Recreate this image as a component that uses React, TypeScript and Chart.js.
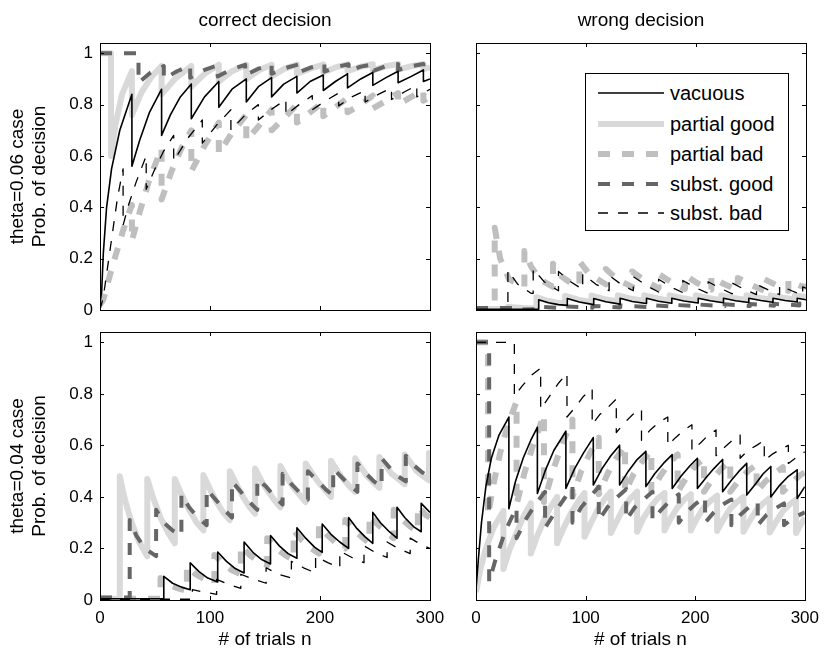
import React, { useEffect, useRef } from "react";
import { Chart, registerables } from "chart.js";

Chart.register(...registerables);

type Pt = [number, number];

// ---------- text / ticks ----------
const xTicks = [0, 100, 200, 300];
const yTicks = [0, 0.2, 0.4, 0.6, 0.8, 1];
const seriesNames = ["vacuous", "partial good", "partial bad", "subst. good", "subst. bad"];
const colTitles = ["correct decision", "wrong decision"];
const rowLabels = [
  ["theta=0.06 case", "Prob. of decision"],
  ["theta=0.04 case", "Prob. of decision"],
];
const xLabel = "# of trials n";

// ---------- theta = 0.06, correct decision ----------
const tlVacuous: Pt[] = [[0,0.03],[1.5,0.07],[3,0.22],[6,0.4],[10.5,0.55],[18,0.7],[29,0.84],[29,0.56],[36,0.66],[45,0.77],[56,0.86],[56,0.68],[64,0.76],[73,0.83],[83,0.88],[83,0.745],[95,0.83],[108,0.89],[108,0.79],[120,0.86],[133,0.9],[133,0.81],[144,0.87],[156,0.905],[156,0.83],[167,0.88],[179,0.91],[179,0.845],[191,0.89],[203,0.915],[203,0.855],[214,0.89],[225,0.92],[225,0.865],[237,0.9],[248,0.925],[248,0.875],[260,0.905],[271,0.93],[271,0.885],[283,0.91],[294,0.935],[294,0.89],[300,0.9]];
const tlPartialGood: Pt[] = [[0,1],[10,1],[10,0.6],[14,0.72],[20,0.84],[29,0.93],[29,0.76],[38,0.85],[47,0.91],[56,0.95],[56,0.84],[68,0.9],[83,0.95],[83,0.87],[95,0.92],[108,0.955],[108,0.89],[120,0.93],[133,0.955],[133,0.9],[145,0.935],[156,0.955],[156,0.91],[168,0.94],[179,0.956],[179,0.92],[191,0.94],[203,0.956],[203,0.925],[214,0.945],[225,0.957],[225,0.93],[237,0.948],[248,0.957],[248,0.933],[260,0.95],[271,0.958],[271,0.936],[283,0.95],[294,0.958],[294,0.938],[300,0.945]];
const tlPartialBad: Pt[] = [[0,0.02],[3,0.04],[8,0.12],[14,0.21],[21,0.31],[29,0.41],[29,0.27],[36,0.38],[45,0.51],[56,0.63],[56,0.43],[65,0.54],[74,0.63],[83,0.7],[83,0.54],[95,0.64],[108,0.73],[108,0.61],[120,0.69],[133,0.76],[133,0.66],[145,0.72],[156,0.78],[156,0.7],[168,0.75],[179,0.8],[179,0.73],[191,0.77],[203,0.81],[203,0.755],[214,0.79],[225,0.825],[225,0.77],[237,0.8],[248,0.835],[248,0.785],[260,0.815],[271,0.845],[271,0.8],[283,0.83],[294,0.855],[294,0.815],[300,0.83]];
const tlSubstGood: Pt[] = [[0,1],[35,1],[35,0.885],[46,0.925],[58,0.95],[58,0.9],[70,0.93],[82,0.952],[82,0.905],[95,0.935],[107,0.953],[107,0.91],[120,0.938],[132,0.955],[132,0.915],[144,0.94],[156,0.955],[156,0.92],[168,0.942],[180,0.956],[180,0.925],[192,0.945],[204,0.957],[204,0.928],[215,0.947],[226,0.957],[226,0.93],[237,0.948],[249,0.958],[249,0.932],[260,0.95],[271,0.958],[271,0.935],[283,0.95],[294,0.958],[294,0.937],[300,0.943]];
const tlSubstBad: Pt[] = [[0,0],[3,0.05],[7,0.17],[12,0.32],[16,0.44],[21,0.55],[21,0.33],[26,0.41],[33,0.5],[42,0.6],[42,0.47],[50,0.55],[58,0.62],[67,0.68],[67,0.58],[80,0.67],[93,0.74],[93,0.65],[106,0.72],[119,0.78],[119,0.7],[132,0.76],[144,0.8],[144,0.74],[157,0.785],[169,0.82],[169,0.76],[181,0.8],[193,0.835],[193,0.78],[205,0.815],[217,0.845],[217,0.795],[229,0.83],[241,0.855],[241,0.81],[253,0.84],[265,0.865],[265,0.82],[277,0.85],[288,0.875],[288,0.83],[300,0.86]];

// ---------- theta = 0.06, wrong decision ----------
const trVacuous: Pt[] = [[0,0.003],[57,0.003],[57,0.04],[66,0.028],[75,0.021],[83,0.018],[83,0.045],[94,0.031],[107,0.021],[107,0.045],[118,0.032],[131,0.023],[131,0.046],[142,0.033],[155,0.025],[155,0.046],[166,0.034],[178,0.026],[178,0.046],[189,0.035],[202,0.027],[202,0.046],[213,0.036],[225,0.028],[225,0.046],[236,0.036],[248,0.029],[248,0.046],[259,0.037],[270,0.03],[270,0.046],[281,0.037],[292,0.031],[292,0.046],[300,0.04]];
const trPartialGood: Pt[] = [[0,0.004],[29,0.004],[29,0.012],[43,0.008],[55,0.006],[55,0.05],[65,0.036],[74,0.028],[81,0.025],[81,0.055],[93,0.04],[105,0.03],[105,0.056],[117,0.042],[129,0.033],[129,0.057],[141,0.044],[153,0.035],[153,0.057],[165,0.045],[176,0.036],[176,0.057],[188,0.046],[200,0.037],[200,0.057],[211,0.047],[223,0.038],[223,0.057],[234,0.047],[246,0.039],[246,0.057],[257,0.048],[268,0.04],[268,0.057],[279,0.048],[290,0.041],[290,0.057],[300,0.05]];
const trPartialBad: Pt[] = [[0,0],[10,0.005],[17,0.02],[17,0.32],[22,0.2],[30,0.12],[44,0.09],[44,0.23],[50,0.17],[58,0.12],[70,0.09],[70,0.18],[78,0.13],[88,0.1],[94,0.095],[94,0.19],[103,0.14],[118,0.1],[118,0.16],[128,0.12],[142,0.09],[142,0.15],[153,0.115],[166,0.085],[166,0.14],[177,0.11],[190,0.082],[190,0.135],[201,0.105],[214,0.08],[214,0.13],[225,0.102],[238,0.078],[238,0.125],[249,0.1],[262,0.076],[262,0.12],[273,0.097],[284,0.075],[284,0.115],[295,0.094],[300,0.09]];
const trSubstGood: Pt[] = [[0,0.008],[36,0.008],[36,0.002],[60,0.003],[60,0.012],[82,0.007],[82,0.014],[106,0.009],[106,0.016],[131,0.01],[131,0.018],[155,0.012],[155,0.02],[180,0.013],[180,0.02],[204,0.014],[204,0.021],[226,0.015],[226,0.022],[249,0.016],[249,0.023],[271,0.017],[271,0.024],[294,0.018],[294,0.025],[300,0.023]];
const trSubstBad: Pt[] = [[0,0],[29,0],[29,0.155],[38,0.1],[50,0.065],[52,0.065],[52,0.16],[62,0.11],[75,0.075],[75,0.15],[86,0.11],[97,0.08],[97,0.14],[109,0.1],[121,0.075],[121,0.135],[132,0.1],[143,0.075],[143,0.13],[155,0.095],[166,0.07],[166,0.12],[177,0.09],[188,0.068],[188,0.115],[199,0.088],[211,0.065],[211,0.11],[222,0.085],[233,0.063],[233,0.105],[244,0.08],[255,0.06],[255,0.1],[266,0.078],[276,0.06],[276,0.095],[287,0.075],[297,0.058],[297,0.09],[300,0.085]];

// ---------- theta = 0.04, correct decision ----------
const blVacuous: Pt[] = [[0,0.005],[58,0.005],[58,0.092],[66,0.065],[74,0.05],[82,0.04],[82,0.144],[90,0.11],[98,0.085],[107,0.07],[107,0.186],[115,0.15],[123,0.122],[131,0.105],[131,0.225],[139,0.185],[147,0.157],[155,0.14],[155,0.25],[163,0.21],[171,0.18],[179,0.162],[179,0.28],[187,0.24],[195,0.205],[202,0.185],[202,0.295],[210,0.255],[218,0.225],[226,0.2],[226,0.32],[233,0.28],[241,0.245],[248,0.22],[248,0.34],[255,0.3],[263,0.265],[270,0.24],[270,0.36],[277,0.32],[285,0.285],[292,0.265],[292,0.375],[300,0.34]];
const blPartialGood: Pt[] = [[0,0.005],[18,0.005],[18,0.48],[22,0.4],[28,0.31],[35,0.23],[43,0.17],[43,0.47],[48,0.4],[55,0.32],[62,0.26],[68,0.22],[68,0.47],[74,0.41],[81,0.35],[88,0.3],[94,0.27],[94,0.485],[100,0.43],[106,0.38],[112,0.34],[118,0.31],[118,0.5],[124,0.45],[130,0.4],[136,0.36],[141,0.335],[141,0.51],[147,0.46],[153,0.42],[159,0.385],[164,0.36],[164,0.52],[170,0.475],[176,0.435],[182,0.405],[187,0.38],[187,0.53],[193,0.49],[199,0.455],[205,0.425],[210,0.4],[210,0.54],[216,0.5],[221,0.47],[227,0.44],[232,0.42],[232,0.55],[238,0.51],[243,0.48],[249,0.455],[254,0.435],[254,0.555],[260,0.52],[265,0.49],[271,0.47],[277,0.45],[277,0.565],[283,0.53],[288,0.5],[294,0.48],[299,0.465],[299,0.57],[300,0.565]];
const blPartialBad: Pt[] = [[0,0.005],[55,0.005],[55,0.085],[63,0.06],[71,0.045],[79,0.035],[79,0.13],[87,0.1],[95,0.08],[104,0.065],[104,0.175],[112,0.14],[120,0.115],[128,0.1],[128,0.21],[136,0.175],[144,0.15],[152,0.135],[152,0.24],[160,0.2],[168,0.175],[176,0.155],[176,0.27],[184,0.23],[192,0.2],[199,0.18],[199,0.29],[207,0.25],[215,0.22],[223,0.2],[223,0.31],[230,0.275],[238,0.245],[245,0.22],[245,0.33],[252,0.295],[260,0.265],[267,0.24],[267,0.35],[274,0.315],[282,0.285],[289,0.265],[289,0.365],[296,0.33],[300,0.32]];
const blSubstGood: Pt[] = [[0,0.01],[27,0.01],[27,0.31],[33,0.25],[41,0.2],[51,0.17],[51,0.35],[58,0.3],[66,0.27],[74,0.25],[74,0.41],[81,0.36],[89,0.32],[97,0.29],[97,0.43],[105,0.39],[113,0.35],[120,0.32],[120,0.46],[128,0.42],[136,0.38],[143,0.35],[143,0.47],[151,0.44],[159,0.4],[166,0.37],[166,0.49],[174,0.45],[182,0.415],[189,0.39],[189,0.5],[197,0.465],[205,0.43],[212,0.405],[212,0.51],[220,0.475],[227,0.445],[234,0.42],[234,0.53],[242,0.49],[249,0.46],[256,0.44],[256,0.55],[264,0.51],[271,0.48],[278,0.46],[278,0.56],[286,0.52],[293,0.495],[300,0.475]];
const blSubstBad: Pt[] = [[0,0.003],[84,0.003],[84,0.04],[95,0.03],[106,0.022],[106,0.08],[117,0.06],[128,0.045],[128,0.1],[140,0.08],[151,0.065],[151,0.125],[162,0.1],[174,0.085],[174,0.15],[185,0.125],[196,0.105],[196,0.17],[207,0.145],[218,0.125],[218,0.19],[229,0.165],[240,0.145],[240,0.21],[250,0.185],[261,0.165],[261,0.225],[271,0.2],[282,0.18],[282,0.24],[292,0.215],[300,0.2]];

// ---------- theta = 0.04, wrong decision ----------
const brVacuous: Pt[] = [[0,0.04],[2,0.15],[5,0.3],[9,0.44],[14,0.55],[21,0.64],[30,0.71],[30,0.354],[36,0.46],[43,0.55],[50,0.62],[56,0.67],[56,0.413],[63,0.5],[71,0.58],[82,0.655],[82,0.433],[90,0.51],[98,0.57],[107,0.63],[107,0.446],[115,0.51],[123,0.56],[131,0.6],[131,0.446],[139,0.5],[147,0.545],[155,0.577],[155,0.44],[163,0.49],[171,0.53],[179,0.564],[179,0.433],[187,0.48],[195,0.52],[202,0.55],[202,0.433],[210,0.475],[217,0.51],[225,0.545],[225,0.42],[233,0.465],[240,0.5],[247,0.53],[247,0.407],[255,0.45],[262,0.49],[269,0.518],[269,0.4],[277,0.445],[285,0.48],[293,0.505],[293,0.394],[300,0.44]];
const brPartialGood: Pt[] = [[0,0.03],[4,0.12],[9,0.2],[16,0.28],[25,0.345],[25,0.12],[31,0.2],[38,0.27],[44,0.33],[50,0.375],[50,0.18],[56,0.25],[62,0.31],[68,0.36],[74,0.4],[74,0.22],[80,0.28],[87,0.34],[93,0.38],[99,0.415],[99,0.245],[105,0.3],[111,0.35],[117,0.39],[123,0.42],[123,0.26],[129,0.31],[135,0.36],[141,0.395],[147,0.42],[147,0.265],[153,0.32],[160,0.365],[166,0.395],[172,0.415],[172,0.27],[178,0.32],[184,0.36],[190,0.39],[196,0.41],[196,0.27],[202,0.32],[208,0.36],[214,0.385],[220,0.405],[220,0.268],[226,0.315],[232,0.355],[238,0.38],[244,0.4],[244,0.265],[250,0.31],[256,0.35],[262,0.375],[268,0.395],[268,0.262],[274,0.305],[280,0.345],[286,0.37],[292,0.39],[292,0.26],[300,0.32]];
const brPartialBad: Pt[] = [[0,1],[11,1],[11,0.33],[16,0.45],[22,0.57],[29,0.68],[37,0.77],[37,0.37],[44,0.49],[52,0.6],[62,0.72],[62,0.38],[70,0.5],[79,0.61],[88,0.7],[88,0.4],[96,0.5],[104,0.57],[112,0.63],[112,0.41],[120,0.49],[128,0.55],[136,0.6],[136,0.42],[144,0.49],[152,0.54],[160,0.58],[160,0.42],[168,0.48],[176,0.53],[184,0.565],[184,0.42],[192,0.475],[200,0.52],[208,0.55],[208,0.42],[216,0.47],[224,0.51],[232,0.54],[232,0.42],[240,0.465],[248,0.5],[256,0.525],[256,0.42],[264,0.46],[272,0.49],[280,0.515],[280,0.42],[288,0.455],[296,0.485],[300,0.495]];
const brSubstGood: Pt[] = [[0,1],[12,1],[12,0.07],[18,0.16],[27,0.27],[37,0.36],[37,0.24],[45,0.31],[54,0.37],[63,0.42],[63,0.28],[72,0.34],[80,0.39],[88,0.44],[88,0.3],[96,0.36],[104,0.4],[112,0.44],[112,0.31],[120,0.36],[129,0.4],[137,0.43],[137,0.31],[145,0.36],[153,0.39],[161,0.42],[161,0.31],[169,0.35],[177,0.385],[185,0.41],[185,0.3],[193,0.345],[201,0.375],[209,0.4],[209,0.3],[217,0.34],[225,0.37],[233,0.39],[233,0.29],[241,0.33],[249,0.36],[257,0.38],[257,0.29],[265,0.33],[273,0.355],[281,0.375],[281,0.29],[290,0.32],[300,0.34]];
const brSubstBad: Pt[] = [[0,1],[35,1],[35,0.79],[42,0.83],[50,0.87],[59,0.9],[59,0.74],[67,0.79],[75,0.84],[83,0.88],[83,0.71],[91,0.75],[98,0.79],[106,0.82],[106,0.68],[113,0.72],[121,0.75],[128,0.78],[128,0.65],[136,0.69],[143,0.72],[151,0.74],[151,0.62],[159,0.66],[167,0.69],[175,0.71],[175,0.6],[182,0.63],[190,0.66],[197,0.68],[197,0.58],[205,0.61],[212,0.64],[219,0.66],[219,0.56],[226,0.59],[234,0.62],[241,0.64],[241,0.55],[248,0.58],[256,0.6],[263,0.62],[263,0.54],[270,0.565],[278,0.585],[285,0.6],[285,0.53],[293,0.555],[300,0.575]];

// ---------- styling / layout (not data) ----------
const W = 827;
const H = 653;
const FONT = "'Liberation Sans', Arial, Helvetica, sans-serif";
const TICK_FS = 17;
const LABEL_FS = 19;
const LEGEND_FS = 20;

const styles = [
  { color: "#000000", width: 1.6, dash: [] as number[], order: 1 },
  { color: "rgb(217,217,217)", width: 6, dash: [] as number[], order: 4 },
  { color: "rgb(191,191,191)", width: 6, dash: [12, 12], order: 3 },
  { color: "rgb(102,102,102)", width: 4, dash: [12, 12], order: 2 },
  { color: "#000000", width: 1.3, dash: [10, 10], order: 0 },
];

type PanelCfg = {
  rect: { l: number; t: number; r: number; b: number };
  showX: boolean;
  showY: boolean;
  yTitle: string[] | null;
  series: Pt[][];
};

const panels: PanelCfg[] = [
  { rect: { l: 100, t: 43, r: 430, b: 310 }, showX: false, showY: true, yTitle: rowLabels[0], series: [tlVacuous, tlPartialGood, tlPartialBad, tlSubstGood, tlSubstBad] },
  { rect: { l: 476, t: 43, r: 806, b: 310 }, showX: false, showY: false, yTitle: null, series: [trVacuous, trPartialGood, trPartialBad, trSubstGood, trSubstBad] },
  { rect: { l: 100, t: 332, r: 430, b: 600 }, showX: true, showY: true, yTitle: rowLabels[1], series: [blVacuous, blPartialGood, blPartialBad, blSubstGood, blSubstBad] },
  { rect: { l: 476, t: 332, r: 806, b: 600 }, showX: true, showY: false, yTitle: null, series: [brVacuous, brPartialGood, brPartialBad, brSubstGood, brSubstBad] },
];

const boxPlugin = {
  id: "matlabBox",
  afterDatasetsDraw(chart: any) {
    const { ctx, chartArea: a, scales } = chart;
    const tl = 4;
    ctx.save();
    ctx.strokeStyle = "#000";
    ctx.lineWidth = 1;
    ctx.beginPath();
    for (const v of xTicks) {
      const px = Math.round(scales.x.getPixelForValue(v)) + 0.5;
      ctx.moveTo(px, a.bottom);
      ctx.lineTo(px, a.bottom - tl);
      ctx.moveTo(px, a.top);
      ctx.lineTo(px, a.top + tl);
    }
    for (const v of yTicks) {
      const py = Math.round(scales.y.getPixelForValue(v)) + 0.5;
      ctx.moveTo(a.left, py);
      ctx.lineTo(a.left + tl, py);
      ctx.moveTo(a.right, py);
      ctx.lineTo(a.right - tl, py);
    }
    ctx.stroke();
    ctx.strokeRect(Math.round(a.left) + 0.5, Math.round(a.top) + 0.5, Math.round(a.right - a.left), Math.round(a.bottom - a.top));
    ctx.restore();
  },
};

function Panel({ cfg }: { cfg: PanelCfg }) {
  const ref = useRef<HTMLCanvasElement>(null);
  useEffect(() => {
    const YW = cfg.showY ? 100 : 0;
    const XH = cfg.showX ? 53 : 0;
    const tickFont = { family: FONT, size: TICK_FS };
    const labelFont = { family: FONT, size: LABEL_FS };
    const chart = new Chart(ref.current as HTMLCanvasElement, {
      type: "line",
      data: {
        datasets: cfg.series.map((s, i) => ({
          label: seriesNames[i],
          data: s.map(([x, y]) => ({ x, y })),
          borderColor: styles[i].color,
          backgroundColor: styles[i].color,
          borderWidth: styles[i].width,
          borderDash: styles[i].dash,
          borderCapStyle: "butt",
          borderJoinStyle: "round",
          order: styles[i].order,
          pointRadius: 0,
          fill: false,
          tension: 0,
        })),
      },
      options: {
        responsive: false,
        animation: false,
        devicePixelRatio: 1,
        events: [],
        layout: {
          padding: {
            left: cfg.rect.l - YW,
            top: cfg.rect.t,
            right: W - cfg.rect.r,
            bottom: H - cfg.rect.b - XH,
          },
        },
        plugins: { legend: { display: false }, tooltip: { enabled: false }, title: { display: false } },
        scales: {
          x: {
            type: "linear",
            min: 0,
            max: 300,
            afterBuildTicks: (s: any) => {
              s.ticks = xTicks.map((value) => ({ value }));
            },
            afterFit: (s: any) => {
              s.height = XH;
            },
            grid: { display: false, drawTicks: false },
            border: { display: false },
            ticks: { display: cfg.showX, color: "#000", font: tickFont, padding: 8, maxRotation: 0, autoSkip: false },
            title: { display: cfg.showX, text: xLabel, color: "#000", font: labelFont, padding: { top: 0, bottom: 2 } },
          },
          y: {
            type: "linear",
            min: 0,
            max: 1.04,
            afterBuildTicks: (s: any) => {
              s.ticks = yTicks.map((value) => ({ value }));
            },
            afterFit: (s: any) => {
              s.width = YW;
            },
            grid: { display: false, drawTicks: false },
            border: { display: false },
            ticks: { display: cfg.showY, color: "#000", font: tickFont, padding: 7, autoSkip: false, callback: (v: any) => String(v) },
            title: { display: !!cfg.yTitle, text: cfg.yTitle || "", color: "#000", font: labelFont, padding: { top: 6, bottom: 0 } },
          },
        },
      },
      plugins: [boxPlugin],
    } as any);
    return () => chart.destroy();
  }, [cfg]);
  return <canvas ref={ref} width={W} height={H} style={{ position: "absolute", left: 0, top: 0, width: W, height: H }} />;
}

const legendRows = [19, 50, 80, 110, 139];

function Legend() {
  return (
    <div
      style={{
        position: "absolute",
        left: 585,
        top: 73,
        width: 204,
        height: 158,
        border: "1px solid #000",
        background: "#fff",
        boxSizing: "border-box",
        fontFamily: FONT,
        fontSize: LEGEND_FS,
      }}
    >
      {seriesNames.map((name, i) => (
        <div key={name} style={{ position: "absolute", left: 0, top: legendRows[i] - 12, height: 24, width: 200 }}>
          <svg width={66} height={24} style={{ position: "absolute", left: 12, top: 0 }}>
            <line
              x1={0}
              y1={12}
              x2={66}
              y2={12}
              stroke={styles[i].color}
              strokeWidth={styles[i].width}
              strokeDasharray={styles[i].dash.length ? styles[i].dash.join(" ") : undefined}
            />
          </svg>
          <span style={{ position: "absolute", left: 84, top: 0, lineHeight: "24px", whiteSpace: "nowrap", color: "#000" }}>{name}</span>
        </div>
      ))}
    </div>
  );
}

export default function App() {
  return (
    <div style={{ position: "fixed", left: 0, top: 0, width: W, height: H, background: "#fff", overflow: "hidden" }}>
      {panels.map((p, i) => (
        <Panel key={i} cfg={p} />
      ))}
      {colTitles.map((t, i) => (
        <div
          key={t}
          style={{
            position: "absolute",
            left: (i === 0 ? 265 : 641) - 120,
            width: 240,
            top: 9,
            lineHeight: "22px",
            textAlign: "center",
            fontFamily: FONT,
            fontSize: LABEL_FS,
            color: "#000",
          }}
        >
          {t}
        </div>
      ))}
      <Legend />
    </div>
  );
}
